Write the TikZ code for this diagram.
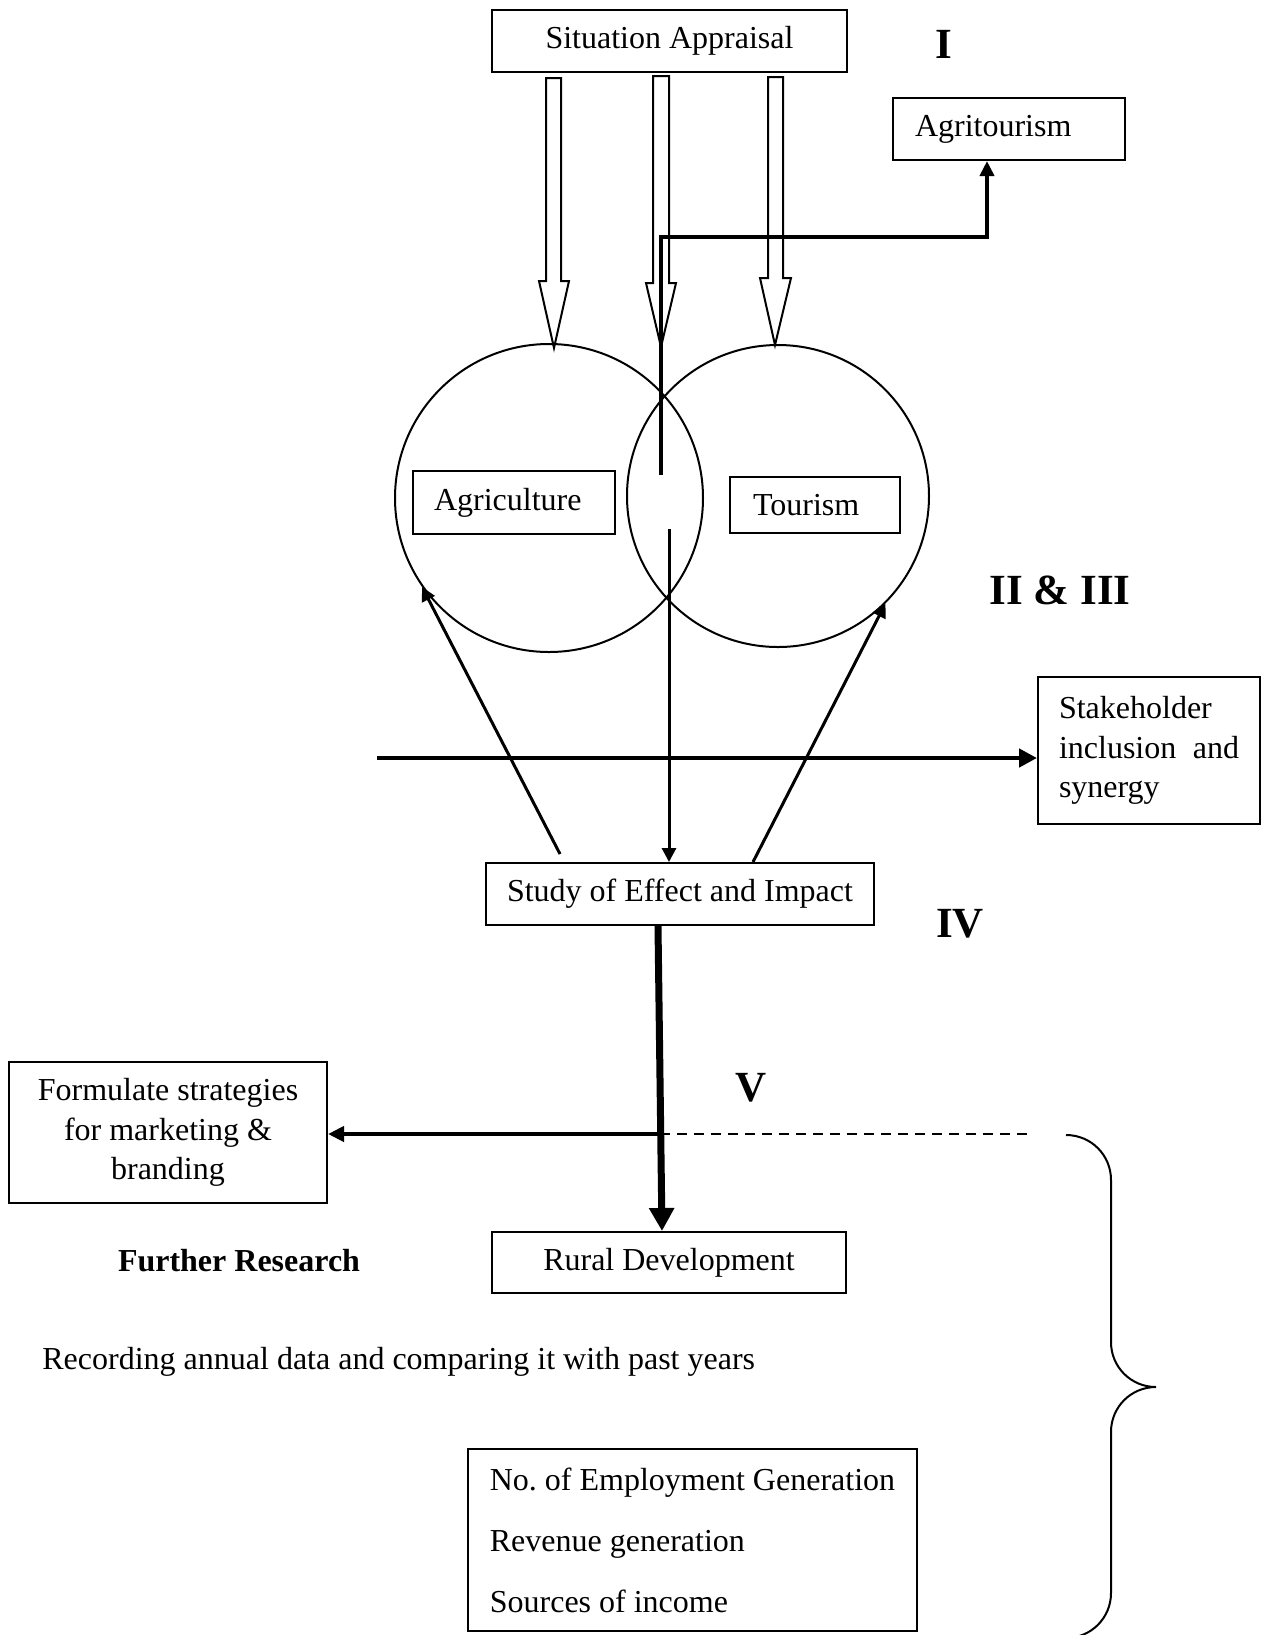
\documentclass[tikz,border=0pt]{standalone}
\usepackage{fontspec}
\setmainfont{Liberation Serif}
\usetikzlibrary{arrows.meta,calc}
\newcommand\bodyfs{\fontsize{16}{19.8}\selectfont}
\newcommand\romfs{\fontsize{21.5}{25}\selectfont\bfseries}
\begin{document}
\begin{tikzpicture}[x=0.5pt,y=-0.5pt,
  box/.style={draw,line width=1pt,inner sep=0pt,font=\bodyfs},
  lbl/.style={inner sep=0pt,font=\romfs},
  txt/.style={inner sep=0pt,font=\bodyfs},
  ring/.style={draw,circle,line width=1pt,inner sep=0pt},
  hollow/.style={draw,line width=1pt,fill=white,line join=miter},
  thinarrow/.style={line width=1.5pt,-{Triangle[length=7pt,width=7pt]}},
  agtarrow/.style={line width=2pt,-{Triangle[length=7.5pt,width=7pt]}},
  wide/.style={line width=2.3pt,-{Triangle[length=9pt,width=9pt]}},
  heavy/.style={line width=3.5pt,-{Triangle[length=11.5pt,width=12pt]}},
  leftarrow/.style={line width=2pt,-{Triangle[length=8pt,width=7.5pt]}},
  dashline/.style={line width=1pt,dash pattern=on 5pt off 3.5pt},
  bracestyle/.style={line width=1pt}
]
\path[use as bounding box] (0,0) rectangle (1261,1635);

% boxes
\node[box,minimum width=177.5pt,minimum height=31pt] (sit) at (669.5,41) {Situation Appraisal};
\node[box,minimum height=31pt,text width=94pt,inner xsep=11pt,align=left] (agt) at (1009,129) {\raisebox{-1.5pt}{Agritourism}};
\node[box,minimum height=31.5pt,text width=80pt,inner xsep=10.5pt,align=left] (agr) at (514,502.5) {Agriculture};
\node[box,minimum height=28pt,text width=62pt,inner xsep=11.5pt,align=left] (tou) at (815,505) {Tourism};
\node[box,minimum height=73.5pt,text width=90pt,inner xsep=10.5pt,align=left] (stake) at (1149,750.5) {Stakeholder\\inclusion\hfill and\\synergy};
\node[box,minimum width=194pt,minimum height=31pt] (study) at (680,894) {Study of Effect and Impact};
\node[box,minimum width=159pt,minimum height=70.5pt,align=center] (form) at (168,1132.5) {Formulate strategies\\for marketing \&\\branding};
\node[box,minimum width=177pt,minimum height=30.5pt] (rural) at (669,1262.5) {Rural Development};
\node[box,minimum width=224.5pt,minimum height=91pt,align=left,font=\fontsize{16}{30.5}\selectfont] (meas) at (692.5,1540) {No.\ of Employment Generation\\Revenue generation\\Sources of income};

% circles
\node[ring,minimum size=154pt] (agc) at (549,498) {};
\node[ring,minimum size=151pt] (toc) at (778,496) {};

% labels
\node[lbl] (l1) at (944,44) {I};
\node[lbl] (l23) at (1060,590) {II \& III};
\node[lbl] (l4) at (960,924) {IV};
\node[lbl] (l5) at (751,1088) {V};
\node[txt,font=\bodyfs\bfseries] (further) at (239,1261) {Further Research};
\node[txt,anchor=west] (record) at (42,1362) {Recording annual data and comparing it with past years};

% hollow block arrows from Situation Appraisal
\draw[hollow] (546,78) -- (561,78) -- (561,281) -- (569,281) -- (554,348) -- (539,281) -- (546,281) -- cycle;
\draw[hollow] (653,76) -- (669,76) -- (669,283) -- (676,283) -- (661,347) -- (646,283) -- (653,283) -- cycle;
\draw[hollow] (768,77) -- (783,77) -- (783,278) -- (791,278) -- (775,345) -- (760,278) -- (768,278) -- cycle;

% path to Agritourism
\coordinate (gaptop) at (661,475);
\coordinate (gapbot) at (669,529);
\draw[agtarrow] (gaptop) -- ++(0,-238) -| ($(agt.south)+(-22,0)$);

% centre line to study
\draw[thinarrow] (gapbot) -- (study.north -| gapbot);

% feedback arrows from study to circles
\draw[thinarrow] ($(study.north)+(-120,-8)$) -- (agc.215);
\draw[thinarrow] ($(study.north)+(73,0)$) -- (toc.-45.5);

% stakeholder arrow
\coordinate (sstart) at (377,758);
\draw[wide] (sstart) -- (stake.west |- sstart);

% study to rural development
\draw[heavy] ($(study.south)+(-22,0)$) -- ($(rural.north)+(-7,0)$);

% branch to formulate strategies
\coordinate (junc) at (660,1134);
\coordinate (dashend) at (1033,1134);
\draw[leftarrow] (junc) -- (form.east |- junc);
\draw[dashline] (junc) -- (dashend);

% brace
\draw[bracestyle] (1066,1135) .. controls (1091,1135) and (1111,1155) .. (1111,1180)
  -- (1111,1342) .. controls (1111,1367) and (1131,1387) .. (1156,1387)
  .. controls (1131,1387) and (1111,1407) .. (1111,1432)
  -- (1111,1593) .. controls (1111,1618) and (1091,1638) .. (1066,1638);
\end{tikzpicture}
\end{document}
